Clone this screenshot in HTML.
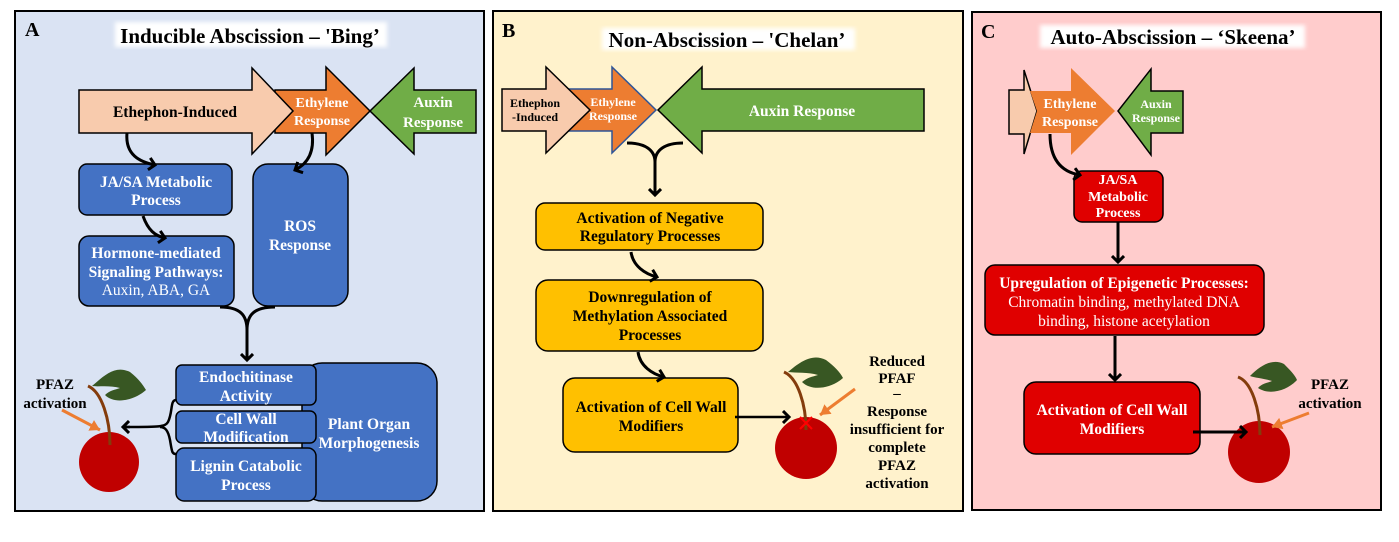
<!DOCTYPE html>
<html><head><meta charset="utf-8"><style>
html,body{margin:0;padding:0;background:#fff}
svg{display:block}
text{font-family:"Liberation Serif",serif;font-weight:bold}
</style></head><body>
<svg width="1399" height="542" viewBox="0 0 1399 542" xmlns="http://www.w3.org/2000/svg">
<defs>
<marker id="ah" markerWidth="14" markerHeight="14" refX="7" refY="7" orient="auto" markerUnits="userSpaceOnUse"><path d="M1,1 L7,7 L1,13" fill="none" stroke="#000" stroke-width="3"/></marker>
<marker id="oh" markerWidth="12" markerHeight="12" refX="10" refY="6" orient="auto" markerUnits="userSpaceOnUse"><path d="M0,0 L10,6 L0,12 Z" fill="#ED7D31"/></marker>
<filter id="gl"><feGaussianBlur stdDeviation="2"/></filter>
</defs>

<!-- Panel A -->
<rect x="15" y="11" width="469" height="500" fill="#DAE3F3" stroke="#000" stroke-width="2"/>
<text x="25" y="36" font-size="20">A</text>
<rect x="115" y="22" width="272" height="25" fill="#fff" filter="url(#gl)"/>
<text x="250" y="43" font-size="21" text-anchor="middle">Inducible Abscission – 'Bing’</text>

<polygon points="275,90 326,90 326,67 370,111 326,155 326,133 275,133" fill="#ED7D31" stroke="#000" stroke-width="1.5"/>
<polygon points="79,90 252,90 252,68 293,111 252,154 252,133 79,133" fill="#F8CBAD" stroke="#000" stroke-width="1.5"/>
<polygon points="476,90 414,90 414,68 370,111 414,154 414,133 476,133" fill="#70AD47" stroke="#000" stroke-width="1.5"/>
<text x="175" y="117" font-size="15.5" text-anchor="middle">Ethephon-Induced</text>
<text x="322" y="107" font-size="14" fill="#fff" text-anchor="middle">Ethylene</text>
<text x="322" y="125" font-size="14" fill="#fff" text-anchor="middle">Response</text>
<text x="433" y="107" font-size="15" fill="#fff" text-anchor="middle">Auxin</text>
<text x="433" y="127" font-size="15" fill="#fff" text-anchor="middle">Response</text>

<rect x="79" y="164" width="153" height="51" rx="8" fill="#4472C4" stroke="#000" stroke-width="1.5"/>
<text x="156" y="187" font-size="15.5" fill="#fff" text-anchor="middle">JA/SA Metabolic</text>
<text x="156" y="205" font-size="15.5" fill="#fff" text-anchor="middle">Process</text>
<rect x="79" y="236" width="155" height="70" rx="10" fill="#4472C4" stroke="#000" stroke-width="1.5"/>
<text x="156" y="258" font-size="15.5" fill="#fff" text-anchor="middle">Hormone-mediated</text>
<text x="156" y="277" font-size="15.5" fill="#fff" text-anchor="middle">Signaling Pathways:</text>
<text x="156" y="295" font-size="15.5" fill="#fff" style="font-weight:normal" text-anchor="middle">Auxin, ABA, GA</text>
<rect x="253" y="164" width="95" height="142" rx="15" fill="#4472C4" stroke="#000" stroke-width="1.5"/>
<text x="300" y="231" font-size="15.5" fill="#fff" text-anchor="middle">ROS</text>
<text x="300" y="250" font-size="15.5" fill="#fff" text-anchor="middle">Response</text>

<rect x="302" y="363" width="135" height="138" rx="20" fill="#4472C4" stroke="#000" stroke-width="1.5"/>
<text x="369" y="429" font-size="15.5" fill="#fff" text-anchor="middle">Plant Organ</text>
<text x="369" y="448" font-size="15.5" fill="#fff" text-anchor="middle">Morphogenesis</text>
<rect x="176" y="365" width="140" height="40" rx="6" fill="#4472C4" stroke="#000" stroke-width="1.5"/>
<text x="246" y="382" font-size="15.5" fill="#fff" text-anchor="middle">Endochitinase</text>
<text x="246" y="401" font-size="15.5" fill="#fff" text-anchor="middle">Activity</text>
<rect x="176" y="411" width="140" height="32" rx="6" fill="#4472C4" stroke="#000" stroke-width="1.5"/>
<text x="246" y="424" font-size="15.5" fill="#fff" text-anchor="middle">Cell Wall</text>
<text x="246" y="442" font-size="15.5" fill="#fff" text-anchor="middle">Modification</text>
<rect x="176" y="448" width="140" height="53" rx="8" fill="#4472C4" stroke="#000" stroke-width="1.5"/>
<text x="246" y="471" font-size="15.5" fill="#fff" text-anchor="middle">Lignin Catabolic</text>
<text x="246" y="490" font-size="15.5" fill="#fff" text-anchor="middle">Process</text>

<circle cx="109" cy="462" r="30" fill="#C00000"/>
<path d="M88,386 C102,392 110,420 110,445" fill="none" stroke="#843C0C" stroke-width="3"/>
<path d="M92,386 C105,375 115,365 130,372 C138,378 143,385 146,390 C135,400 115,405 105,395 C110,390 115,390 120,388 C110,385 98,387 92,386Z" fill="#385723"/>
<text x="55" y="389" font-size="15" text-anchor="middle">PFAZ</text>
<text x="55" y="408" font-size="15" text-anchor="middle">activation</text>
<path d="M62,410 L100,430" stroke="#ED7D31" stroke-width="3" marker-end="url(#oh)"/>

<path d="M127,133 C125,155 140,162 155,165" fill="none" stroke="#000" stroke-width="3" marker-end="url(#ah)"/>
<path d="M143,216 C148,230 155,236 165,238" fill="none" stroke="#000" stroke-width="3" marker-end="url(#ah)"/>
<path d="M312,133 C315,155 305,165 295,170" fill="none" stroke="#000" stroke-width="3" marker-end="url(#ah)"/>
<path d="M220,307 C240,307 247,315 247,330 C247,315 254,307 275,307 M247,330 L247,358" fill="none" stroke="#000" stroke-width="3"/>
<path d="M247,352 L247,360" stroke="#000" stroke-width="3" marker-end="url(#ah)"/>
<path d="M176,400 C170,400 173,412 168,422 C165,427 160,427 124,427 M160,427 C165,427 168,430 170,440 C172,452 172,454 176,454" fill="none" stroke="#000" stroke-width="2.5"/>
<path d="M130,427 L123,427" stroke="#000" stroke-width="2.5" marker-end="url(#ah)"/>

<!-- Panel B -->
<rect x="493" y="11" width="470" height="500" fill="#FFF2CC" stroke="#000" stroke-width="2"/>
<text x="502" y="37" font-size="20">B</text>
<rect x="602" y="28" width="253" height="22" fill="#fff" filter="url(#gl)"/>
<text x="727" y="47" font-size="21" text-anchor="middle">Non-Abscission – 'Chelan’</text>
<polygon points="565,89 612,89 612,67 656,110 612,153 612,131 565,131" fill="#ED7D31" stroke="#2F5597" stroke-width="1.5"/>
<polygon points="502,89 546,89 546,67 590,110 546,153 546,131 502,131" fill="#F8CBAD" stroke="#000" stroke-width="1.5"/>
<polygon points="924,89 702,89 702,67 658,110 702,153 702,131 924,131" fill="#70AD47" stroke="#000" stroke-width="1.5"/>
<text x="535" y="107" font-size="12" text-anchor="middle">Ethephon</text>
<text x="535" y="121" font-size="12" text-anchor="middle">-Induced</text>
<text x="613" y="106" font-size="12" fill="#fff" text-anchor="middle">Ethylene</text>
<text x="613" y="120" font-size="12" fill="#fff" text-anchor="middle">Response</text>
<text x="802" y="116" font-size="15.5" fill="#fff" text-anchor="middle">Auxin Response</text>

<rect x="536" y="203" width="227" height="47" rx="9" fill="#FFC000" stroke="#000" stroke-width="1.5"/>
<text x="650" y="223" font-size="15.5" text-anchor="middle">Activation of Negative</text>
<text x="650" y="241" font-size="15.5" text-anchor="middle">Regulatory Processes</text>
<rect x="536" y="280" width="227" height="71" rx="12" fill="#FFC000" stroke="#000" stroke-width="1.5"/>
<text x="650" y="302" font-size="15.5" text-anchor="middle">Downregulation of</text>
<text x="650" y="321" font-size="15.5" text-anchor="middle">Methylation Associated</text>
<text x="650" y="340" font-size="15.5" text-anchor="middle">Processes</text>
<rect x="563" y="378" width="175" height="74" rx="12" fill="#FFC000" stroke="#000" stroke-width="1.5"/>
<text x="651" y="412" font-size="15.5" text-anchor="middle">Activation of Cell Wall</text>
<text x="651" y="431" font-size="15.5" text-anchor="middle">Modifiers</text>

<circle cx="806" cy="448" r="31" fill="#C00000"/>
<path d="M784,372 C798,378 806,405 806,430" fill="none" stroke="#843C0C" stroke-width="3"/>
<path d="M788,372 C800,362 812,353 826,360 C834,366 840,372 843,378 C832,388 812,392 802,382 C808,377 812,377 818,375 C808,372 796,373 788,372Z" fill="#385723"/>
<path d="M800,417 L812,429 M812,417 L800,429" stroke="#FF0000" stroke-width="2"/>
<path d="M855,389 L820,415" stroke="#ED7D31" stroke-width="3" marker-end="url(#oh)"/>
<g font-size="15" text-anchor="middle">
<text x="897" y="366">Reduced</text>
<text x="897" y="383">PFAF</text>
<text x="897" y="398">–</text>
<text x="897" y="416">Response</text>
<text x="897" y="434">insufficient for</text>
<text x="897" y="452">complete</text>
<text x="897" y="470">PFAZ</text>
<text x="897" y="488">activation</text>
</g>
<path d="M627,143 C645,143 655,150 655,162 C655,150 665,143 683,143 M655,162 L655,192" fill="none" stroke="#000" stroke-width="3"/>
<path d="M655,188 L655,195" stroke="#000" stroke-width="3" marker-end="url(#ah)"/>
<path d="M631,252 C633,266 645,274 657,277" fill="none" stroke="#000" stroke-width="3" marker-end="url(#ah)"/>
<path d="M638,352 C640,366 652,374 664,377" fill="none" stroke="#000" stroke-width="3" marker-end="url(#ah)"/>
<path d="M735,417 L789,417" stroke="#000" stroke-width="2.5" marker-end="url(#ah)"/>

<!-- Panel C -->
<rect x="972" y="12" width="409" height="498" fill="#FFCCCC" stroke="#000" stroke-width="2"/>
<text x="981" y="38" font-size="20">C</text>
<rect x="1040" y="25" width="265" height="23" fill="#fff" filter="url(#gl)"/>
<text x="1173" y="44" font-size="21" text-anchor="middle">Auto-Abscission – ‘Skeena’</text>
<polygon points="1009,90 1024,90 1024,70 1037,111 1024,154 1024,134 1009,134" fill="#F8CBAD" stroke="#000" stroke-width="1.5"/>
<polygon points="1030,91 1071,91 1071,68 1115,111 1071,155 1071,133 1030,133 1037,111" fill="#ED7D31"/>
<polygon points="1183,91 1151,91 1151,69 1118,111 1151,155 1151,133 1183,133" fill="#70AD47" stroke="#000" stroke-width="1.5"/>
<text x="1070" y="108" font-size="14" fill="#fff" text-anchor="middle">Ethylene</text>
<text x="1070" y="126" font-size="14" fill="#fff" text-anchor="middle">Response</text>
<text x="1156" y="108" font-size="12" fill="#fff" text-anchor="middle">Auxin</text>
<text x="1156" y="122" font-size="12" fill="#fff" text-anchor="middle">Response</text>

<rect x="1074" y="171" width="89" height="51" rx="8" fill="#E00000" stroke="#000" stroke-width="1.5"/>
<text x="1118" y="184" font-size="14" fill="#fff" text-anchor="middle">JA/SA</text>
<text x="1118" y="201" font-size="14" fill="#fff" text-anchor="middle">Metabolic</text>
<text x="1118" y="217" font-size="14" fill="#fff" text-anchor="middle">Process</text>
<rect x="985" y="265" width="279" height="70" rx="10" fill="#E00000" stroke="#000" stroke-width="1.5"/>
<text x="1124" y="288" font-size="15.5" fill="#fff" text-anchor="middle">Upregulation of Epigenetic Processes:</text>
<text x="1124" y="307" font-size="15.5" fill="#fff" style="font-weight:normal" text-anchor="middle">Chromatin binding, methylated DNA</text>
<text x="1124" y="326" font-size="15.5" fill="#fff" style="font-weight:normal" text-anchor="middle">binding, histone acetylation</text>
<rect x="1024" y="382" width="176" height="72" rx="12" fill="#E00000" stroke="#000" stroke-width="1.5"/>
<text x="1112" y="415" font-size="15.5" fill="#fff" text-anchor="middle">Activation of Cell Wall</text>
<text x="1112" y="434" font-size="15.5" fill="#fff" text-anchor="middle">Modifiers</text>

<circle cx="1259" cy="452" r="31" fill="#C00000"/>
<path d="M1238,377 C1252,382 1260,410 1260,435" fill="none" stroke="#843C0C" stroke-width="3"/>
<path d="M1250,376 C1260,366 1272,358 1284,364 C1290,370 1295,375 1297,380 C1288,390 1270,396 1258,388 C1262,383 1268,383 1272,381 C1262,378 1255,378 1250,376Z" fill="#385723"/>
<text x="1330" y="389" font-size="15" text-anchor="middle">PFAZ</text>
<text x="1330" y="408" font-size="15" text-anchor="middle">activation</text>
<path d="M1309,413 L1272,427" stroke="#ED7D31" stroke-width="3" marker-end="url(#oh)"/>

<path d="M1050,134 C1050,160 1062,172 1080,175" fill="none" stroke="#000" stroke-width="3" marker-end="url(#ah)"/>
<path d="M1118,222 L1118,262" stroke="#000" stroke-width="3" marker-end="url(#ah)"/>
<path d="M1115,336 L1115,380" stroke="#000" stroke-width="3" marker-end="url(#ah)"/>
<path d="M1193,432 L1246,432" stroke="#000" stroke-width="3" marker-end="url(#ah)"/>
</svg>
</body></html>
